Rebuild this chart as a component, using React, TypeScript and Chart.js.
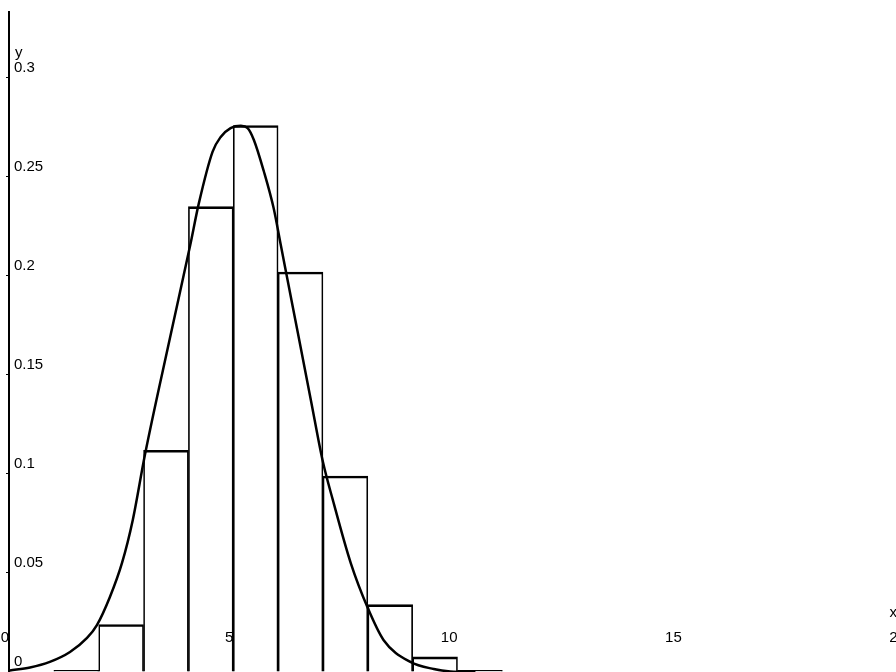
import React, { useEffect, useRef } from 'react';
import { Chart, registerables } from 'chart.js';

Chart.register(...registerables);

// Histogram bins: [start, start+1)
const binStarts = [1, 2, 3, 4, 5, 6, 7, 8, 9, 10];
const binFreq = [0.0008, 0.024, 0.112, 0.235, 0.276, 0.202, 0.099, 0.034, 0.0076, 0.0008];

// Fitted density curve
const curveX = [0.02, 0.47, 0.91, 1.36, 1.74, 1.96, 2.25, 2.52, 2.76, 3.03, 3.59, 4.04, 4.23, 4.54, 4.72, 4.94, 5.17, 5.32, 5.46, 5.68, 5.9, 6.06, 6.21, 6.33, 6.44, 6.73, 7.0, 7.22, 7.62, 8.0, 8.35, 8.95, 9.47, 9.84, 10.4];
const curveY = [0.0008, 0.0023, 0.0051, 0.0101, 0.0172, 0.0237, 0.0379, 0.0551, 0.0768, 0.1096, 0.1688, 0.2155, 0.2364, 0.2628, 0.2702, 0.2747, 0.2758, 0.2747, 0.2687, 0.253, 0.2343, 0.2156, 0.1981, 0.1841, 0.1713, 0.1374, 0.106, 0.0869, 0.055, 0.0323, 0.0162, 0.0051, 0.0015, 0.0003, 0];

const xTicks = [0, 5, 10, 15, 20];
const yTicks = [0, 0.05, 0.1, 0.15, 0.2, 0.25, 0.3];
const xAxisName = 'x';
const yAxisName = 'y';

const FONT = '"Liberation Sans", Arial, Helvetica, sans-serif';
const X_AXIS_LEVEL = 0.0219;

export default function App() {
  const ref = useRef<HTMLCanvasElement | null>(null);

  useEffect(() => {
    if (!ref.current) return;
    const axisNames = {
      id: 'axisNames',
      afterDraw(chart: any) {
        const { ctx, scales, chartArea } = chart;
        const xs = scales.x;
        const ys = scales.y;
        ctx.save();
        ctx.fillStyle = '#000';
        ctx.font = `15px ${FONT}`;
        ctx.textBaseline = 'alphabetic';
        ctx.textAlign = 'left';
        ctx.fillText(yAxisName, chartArea.left + 6, ys.getPixelForValue(0.3) - 21);
        ctx.textAlign = 'right';
        ctx.fillText(xAxisName, xs.getPixelForValue(20) - 9, ys.getPixelForValue(X_AXIS_LEVEL) - 12);
        ctx.restore();
      },
    };

    const chart = new Chart(ref.current, {
      type: 'bar',
      data: {
        datasets: [
          {
            type: 'line',
            data: curveX.map((x, i) => ({ x, y: curveY[i] })),
            borderColor: '#000',
            borderWidth: 2.5,
            pointRadius: 0,
            fill: false,
            cubicInterpolationMode: 'monotone',
            order: 0,
          } as any,
          {
            type: 'bar',
            data: binStarts.map((s, i) => ({ x: s + 0.5, y: binFreq[i] })),
            backgroundColor: 'rgba(0,0,0,0)',
            borderColor: '#000',
            borderWidth: { top: 2, left: 1, right: 1, bottom: 0 },
            borderSkipped: 'start',
            barPercentage: 1,
            categoryPercentage: 1,
            order: 1,
          } as any,
        ],
      },
      options: {
        animation: false,
        responsive: false,
        maintainAspectRatio: false,
        layout: { padding: { left: 6, top: 12, right: 0, bottom: 0 } },
        plugins: { legend: { display: false }, tooltip: { enabled: false }, title: { display: false } },
        scales: {
          x: {
            type: 'linear',
            min: 0,
            max: 20,
            offset: false,
            position: { y: X_AXIS_LEVEL } as any,
            grid: { display: false, drawTicks: false, offset: false },
            border: { display: false },
            ticks: {
              align: 'end',
              padding: 0,
              color: '#000',
              maxRotation: 0,
              autoSkip: false,
              font: { family: FONT, size: 15 },
              callback: (v: any) => String(v),
            },
            afterBuildTicks: (s: any) => {
              s.ticks = xTicks.map((v) => ({ value: v }));
            },
            afterFit: (s: any) => {
              s.paddingLeft = 0;
              s.paddingRight = 0;
            },
          },
          y: {
            type: 'linear',
            min: 0,
            max: 0.3333,
            position: 'left',
            grid: { display: true, drawOnChartArea: false, drawTicks: true, tickLength: 3, color: '#000', lineWidth: 1 },
            border: { display: true, color: '#000', width: 2 },
            ticks: {
              mirror: true,
              padding: 5,
              labelOffset: -10,
              color: '#000',
              font: { family: FONT, size: 15 },
              callback: (v: any) => String(v),
            },
            afterBuildTicks: (s: any) => {
              s.ticks = yTicks.map((v) => ({ value: v }));
            },
            afterFit: (s: any) => {
              s.width = 3;
              s.paddingTop = 0;
              s.paddingBottom = 0;
            },
          },
        },
      } as any,
      plugins: [axisNames],
    });
    return () => chart.destroy();
  }, []);

  return (
    <div style={{ position: 'fixed', left: 0, top: 0, width: 896, height: 672, overflow: 'hidden', background: '#fff' }}>
      <canvas ref={ref} width={906} height={672} style={{ width: 906, height: 672, display: 'block' }} />
    </div>
  );
}
